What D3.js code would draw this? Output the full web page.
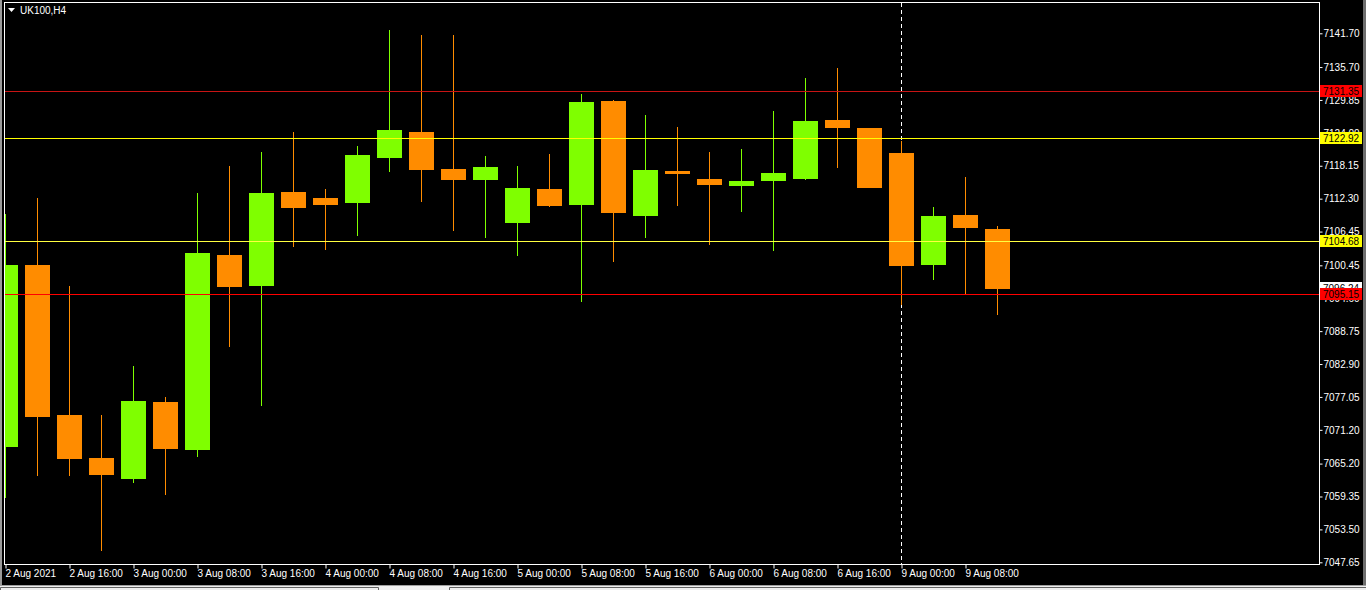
<!DOCTYPE html>
<html>
<head>
<meta charset="utf-8">
<script src="https://cdn.jsdelivr.net/npm/d3@7"></script>
<style>
  html, body { margin: 0; padding: 0; background: #000; overflow: hidden; }
  svg { display: block; font-family: "Liberation Sans", Arial, sans-serif; }
</style>
</head>
<body>
<svg id="chart" width="1366" height="590"></svg>
<script>
// UK100 H4 candles
var opens  = [7068.20, 7100.50, 7073.84, 7066.19, 7062.51, 7076.15, 7067.67, 7102.28,
              7096.77, 7113.48, 7112.41, 7111.53, 7119.53, 7124.15, 7117.57, 7115.61,
              7107.97, 7114.01, 7111.17, 7129.66, 7109.21, 7117.21, 7115.79, 7114.55,
              7115.44, 7115.79, 7126.28, 7124.86, 7120.41, 7100.50, 7109.39, 7106.90];
var highs  = [7109.57, 7112.41, 7096.77, 7073.84, 7082.55, 7077.04, 7113.30, 7118.10,
              7120.59, 7124.15, 7114.01, 7121.66, 7142.28, 7141.39, 7141.39, 7119.88,
              7118.10, 7120.24, 7130.90, 7129.84, 7127.17, 7125.04, 7120.59, 7121.13,
              7127.88, 7133.75, 7135.53, 7124.86, 7122.55, 7110.81, 7116.15, 7107.44];
var lows   = [7059.13, 7063.05, 7063.05, 7049.71, 7061.80, 7059.67, 7066.42, 7085.98,
              7075.44, 7103.70, 7103.17, 7105.66, 7117.04, 7111.70, 7106.55, 7105.30,
              7102.10, 7110.81, 7093.93, 7101.04, 7105.30, 7110.99, 7104.06, 7109.93,
              7102.99, 7115.61, 7117.75, 7114.19, 7093.39, 7097.84, 7095.35, 7091.61];
var closes = [7100.50, 7073.53, 7066.07, 7063.22, 7076.33, 7067.85, 7102.64, 7096.65,
              7113.30, 7110.64, 7111.17, 7120.06, 7124.50, 7117.39, 7115.61, 7117.93,
              7114.19, 7110.99, 7129.48, 7109.75, 7117.39, 7116.68, 7114.73, 7115.44,
              7116.86, 7126.10, 7124.86, 7114.19, 7100.33, 7109.21, 7107.08, 7096.24];

// time labels, one every second bar
var timeLabels = ["2 Aug 2021", "2 Aug 16:00", "3 Aug 00:00", "3 Aug 08:00", "3 Aug 16:00",
                  "4 Aug 00:00", "4 Aug 08:00", "4 Aug 16:00", "5 Aug 00:00", "5 Aug 08:00",
                  "5 Aug 16:00", "6 Aug 00:00", "6 Aug 08:00", "6 Aug 16:00", "9 Aug 00:00",
                  "9 Aug 08:00"];

var priceTicks = [7141.70, 7135.70, 7129.85, 7124.00, 7118.15, 7112.30, 7106.45, 7100.45,
                  7094.60, 7088.75, 7082.90, 7077.05, 7071.20, 7065.20, 7059.35, 7053.50, 7047.65];

// horizontal levels drawn on the chart
var levelPrices = [7131.35, 7122.92, 7104.68, 7095.15];
var levelColors = ["#c81414", "#ffff00", "#ffff40", "#ff0000"];

var separatorBar = 28;

var svg = d3.select("#chart"),
    width = +svg.attr("width"),
    height = +svg.attr("height");

// note: "top" is taken by window.top, so plot edges get their own names
var plotLeft = 5, plotRight = 1319, plotTop = 3, plotBottom = 564;

var x = d3.scaleLinear().domain([0, opens.length - 1]).range([5, 5 + 32 * (opens.length - 1)]);
var y = d3.scaleLinear().domain([7047.65, 7141.70]).range([562.3, 33.3]);

// pixel row of a level line (MT4 snaps them a touch higher than the candles)
function levelRow(p) { return Math.round(y(p) - 0.8); }

var candles = opens.map(function (o, i) {
    return { i: i, o: o, h: highs[i], l: lows[i], c: closes[i] };
});

// window bits around the chart
svg.append("rect").attr("x", 0).attr("y", 0).attr("width", 2).attr("height", height).attr("fill", "#9a9a9a");
svg.append("rect").attr("x", 1363).attr("y", 0).attr("width", 3).attr("height", height).attr("fill", "#6e6e6e");
svg.append("rect").attr("x", 0).attr("y", 585).attr("width", width).attr("height", 5).attr("fill", "#f0f0f0");
svg.append("line").attr("x1", 0).attr("x2", width).attr("y1", 585.5).attr("y2", 585.5).attr("stroke", "#a0a0a0");
svg.append("path").attr("d", "M0.5,590V587.5H378.5V590").attr("fill", "none").attr("stroke", "#646464");
svg.append("path").attr("d", "M449.5,590V587.5H1366").attr("fill", "none").attr("stroke", "#646464");

svg.append("defs").append("clipPath").attr("id", "plot")
    .append("rect").attr("x", plotLeft).attr("y", plotTop)
    .attr("width", plotRight - plotLeft).attr("height", plotBottom - plotTop);

var plot = svg.append("g")
    .attr("clip-path", "url(#plot)")
    .attr("shape-rendering", "crispEdges");

// week separator, under the candles
plot.append("line")
    .attr("x1", Math.round(x(separatorBar)) + 0.5).attr("x2", Math.round(x(separatorBar)) + 0.5)
    .attr("y1", plotTop).attr("y2", plotBottom)
    .attr("stroke", "#fff")
    .attr("stroke-dasharray", "4,3");

function candleColor(d) { return d.c >= d.o ? "#7fff00" : "#ff8c00"; }

var bars = plot.selectAll("g.candle")
    .data(candles)
    .enter().append("g")
    .attr("class", "candle");

bars.append("line")
    .attr("x1", function (d) { return Math.round(x(d.i)) + 0.5; })
    .attr("x2", function (d) { return Math.round(x(d.i)) + 0.5; })
    .attr("y1", function (d) { return Math.round(y(d.h)); })
    .attr("y2", function (d) { return Math.round(y(d.l)); })
    .attr("stroke", candleColor);

bars.append("rect")
    .attr("x", function (d) { return Math.round(x(d.i)) - 12; })
    .attr("width", 25)
    .attr("y", function (d) { return Math.round(y(Math.max(d.o, d.c))); })
    .attr("height", function (d) { return Math.max(2, Math.round(y(Math.min(d.o, d.c))) - Math.round(y(Math.max(d.o, d.c)))); })
    .attr("fill", candleColor);

// level lines sit on top of the candles
plot.selectAll("line.level")
    .data(levelPrices)
    .enter().append("line")
    .attr("class", "level")
    .attr("x1", plotLeft).attr("x2", plotRight)
    .attr("y1", function (d) { return levelRow(d) + 0.5; })
    .attr("y2", function (d) { return levelRow(d) + 0.5; })
    .attr("stroke", function (d, i) { return levelColors[i]; })
    .attr("stroke-width", 1);

// frame
svg.append("rect")
    .attr("x", plotLeft - 0.5).attr("y", plotTop - 0.5)
    .attr("width", plotRight - plotLeft + 1).attr("height", plotBottom - plotTop + 1)
    .attr("fill", "none").attr("stroke", "#fff");

// price axis
var yAxis = svg.append("g")
    .attr("transform", "translate(" + (plotRight + 0.5) + ",0)")
    .call(d3.axisRight(y).tickValues(priceTicks).tickSize(3).tickPadding(1).tickFormat(d3.format(".2f")));
yAxis.select(".domain").remove();
yAxis.selectAll("line").attr("stroke", "#fff");
yAxis.selectAll("text").attr("fill", "#fff").attr("font-size", "10px").attr("font-family", "Liberation Sans, Arial, sans-serif");

// time axis
var xAxis = svg.append("g")
    .attr("transform", "translate(0," + (plotBottom + 0.5) + ")")
    .call(d3.axisBottom(x)
        .tickValues(d3.range(0, opens.length, 2))
        .tickSize(4)
        .tickPadding(1)
        .tickFormat(function (d) { return timeLabels[d / 2]; }));
xAxis.select(".domain").remove();
xAxis.selectAll("line").attr("stroke", "#fff").attr("transform", "translate(0.5,0)");
xAxis.selectAll("text")
    .attr("fill", "#fff")
    .attr("font-size", "10px")
    .attr("font-family", "Liberation Sans, Arial, sans-serif")
    .attr("text-anchor", "start")
    .attr("x", 0);

// price labels on the axis (bid first, levels on top)
var tags = [{ p: closes[closes.length - 1], fill: "#fff", text: "#000" }];
levelPrices.forEach(function (p, i) {
    tags.push({ p: p, fill: i == 0 || i == 3 ? "#ff0000" : "#ffff00", text: "#000" });
});

var tag = svg.selectAll("g.tag")
    .data(tags)
    .enter().append("g")
    .attr("class", "tag")
    .attr("transform", function (d) { return "translate(" + (plotRight + 1) + "," + levelRow(d.p) + ")"; });

tag.append("rect")
    .attr("x", 0).attr("y", -6)
    .attr("width", 42).attr("height", 12)
    .attr("fill", function (d) { return d.fill; });

tag.append("text")
    .attr("x", 3).attr("y", 0.5).attr("dy", "0.35em")
    .attr("font-size", "10px")
    .attr("fill", function (d) { return d.text; })
    .text(function (d) { return d3.format(".2f")(d.p); });

// symbol caption
svg.append("path").attr("d", "M8,8H15L11.5,12Z").attr("fill", "#fff");
svg.append("text")
    .attr("x", 20).attr("y", 14)
    .attr("font-size", "10px")
    .attr("fill", "#fff")
    .text("UK100,H4");
</script>
</body>
</html>
